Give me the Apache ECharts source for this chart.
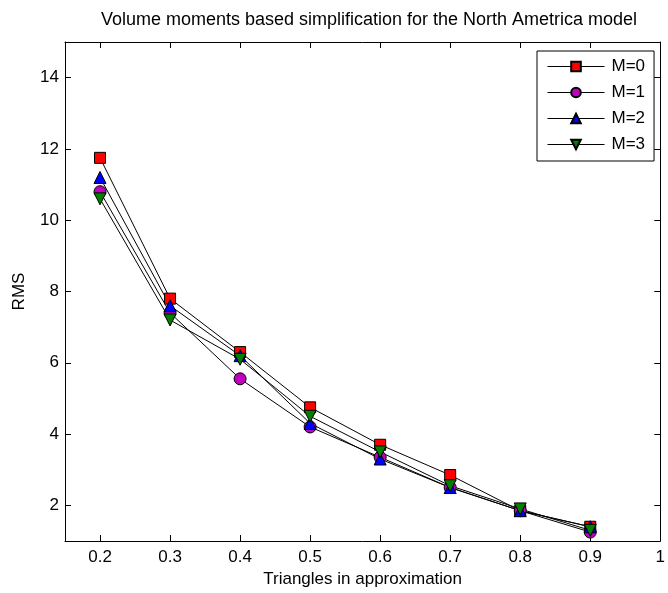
<!DOCTYPE html>
<html>
<head>
<meta charset="utf-8">
<script src="https://cdn.jsdelivr.net/npm/echarts@6/dist/echarts.min.js"></script>
<style>
html,body{margin:0;padding:0;background:#fff;}
#c{width:668px;height:593px;}
</style>
</head>
<body>
<div id="c"></div>
<script>
var xValues = [0.2, 0.3, 0.4, 0.5, 0.6, 0.7, 0.8, 0.9];
var m0 = [11.75, 7.8, 6.3, 4.75, 3.7, 2.85, 1.85, 1.4];
var m1 = [10.8, 7.4, 5.55, 4.2, 3.35, 2.5, 1.85, 1.25];
var m2 = [11.2, 7.6, 6.2, 4.3, 3.3, 2.5, 1.85, 1.4];
var m3 = [10.6, 7.2, 6.1, 4.5, 3.5, 2.55, 1.9, 1.3];
var xTicks = [0.2, 0.3, 0.4, 0.5, 0.6, 0.7, 0.8, 0.9, 1];
var yTicks = [2, 4, 6, 8, 10, 12, 14];
var seriesNames = ['M=0', 'M=1', 'M=2', 'M=3'];

var FONT = 'Liberation Sans, Arial, sans-serif';
var FS = 17;

function pairs(ys) {
  return xValues.map(function (x, i) { return [x, ys[i]]; });
}

function mkSeries(name, ys, symbol, color, rotate) {
  return {
    name: name,
    type: 'line',
    xAxisIndex: 0,
    yAxisIndex: 0,
    data: pairs(ys),
    symbol: symbol,
    symbolSize: symbol === 'rect' ? 11 : 12,
    symbolRotate: rotate || 0,
    showAllSymbol: true,
    lineStyle: { color: '#000', width: 1 },
    itemStyle: { color: color, borderColor: '#000', borderWidth: 1 },
    emphasis: { disabled: true }
  };
}

var chart = echarts.init(document.getElementById('c'), null, { renderer: 'canvas' });

var baseX = {
  type: 'value', min: 0.15, max: 1,
  axisLine: { show: true, onZero: false, lineStyle: { color: '#000', width: 1 } },
  axisTick: { show: true, inside: true, length: 6, customValues: xTicks, lineStyle: { color: '#000' } },
  splitLine: { show: false }
};
var baseY = {
  type: 'value', min: 1, max: 15,
  axisLine: { show: true, onZero: false, lineStyle: { color: '#000', width: 1 } },
  axisTick: { show: true, inside: true, length: 6, customValues: yTicks, lineStyle: { color: '#000' } },
  splitLine: { show: false }
};

chart.setOption({
  animation: false,
  backgroundColor: '#fff',
  textStyle: { fontFamily: FONT },
  title: {
    text: 'Volume moments based simplification for the North Ametrica model',
    left: 364, top: 6, textAlign: 'center',
    textStyle: { fontFamily: FONT, fontSize: 18, fontWeight: 'normal', color: '#000' }
  },
  grid: { left: 65, right: 1, top: 42, bottom: 52, containLabel: false },
  legend: {
    data: seriesNames,
    orient: 'vertical',
    left: 537, top: 51,
    padding: [7, 9, 8, 10],
    itemWidth: 57, itemHeight: 12, itemGap: 9,
    backgroundColor: '#fff',
    borderColor: '#000', borderWidth: 1,
    lineStyle: { width: 1, color: '#000' },
    textStyle: { fontFamily: FONT, fontSize: FS, color: '#000', padding: [0, 0, 0, 2] }
  },
  xAxis: [
    Object.assign({}, baseX, {
      position: 'bottom',
      name: 'Triangles in approximation', nameLocation: 'middle', nameGap: 28,
      nameTextStyle: { fontFamily: FONT, fontSize: FS, color: '#000' },
      axisLabel: { show: true, customValues: xTicks, margin: 8, fontFamily: FONT, fontSize: FS, color: '#000',
        formatter: function (v) { return String(Math.round(v * 10) / 10); } }
    }),
    Object.assign({}, baseX, { position: 'top', axisLabel: { show: false } })
  ],
  yAxis: [
    Object.assign({}, baseY, {
      position: 'left',
      name: 'RMS', nameLocation: 'middle', nameGap: 37, nameRotate: 90,
      nameTextStyle: { fontFamily: FONT, fontSize: FS, color: '#000' },
      axisLabel: { show: true, customValues: yTicks, margin: 6, fontFamily: FONT, fontSize: FS, color: '#000' }
    }),
    Object.assign({}, baseY, { position: 'right', axisLabel: { show: false } })
  ],
  series: [
    mkSeries('M=0', m0, 'rect', '#ff0000'),
    mkSeries('M=1', m1, 'circle', '#bf00bf'),
    mkSeries('M=2', m2, 'triangle', '#0000ff'),
    mkSeries('M=3', m3, 'triangle', '#007f00', 180)
  ]
});
</script>
</body>
</html>
